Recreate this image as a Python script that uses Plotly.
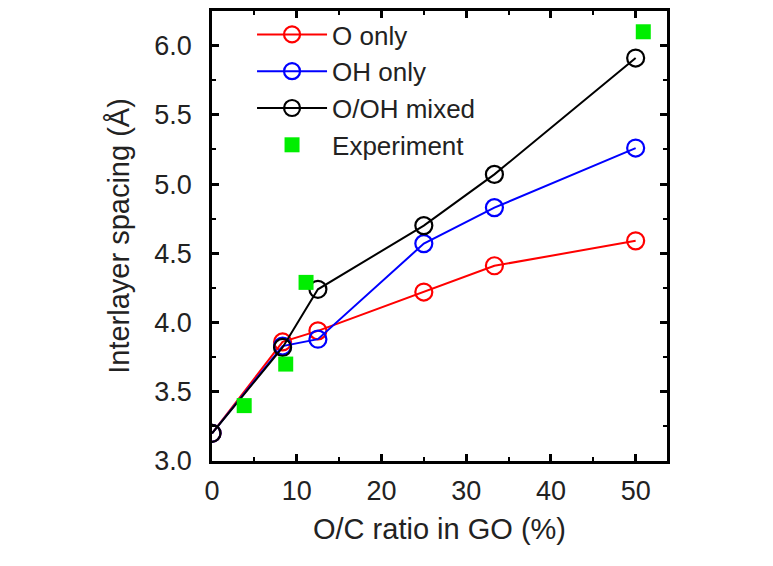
import plotly.graph_objects as go

oc_ratio = [0, 8.33, 12.5, 25, 33.33, 50]
o_only = [3.20, 3.86, 3.94, 4.22, 4.41, 4.59]
oh_only = [3.20, 3.83, 3.88, 4.57, 4.83, 5.26]
mixed = [3.20, 3.82, 4.24, 4.70, 5.07, 5.91]
exp_x = [3.8, 8.7, 11.1, 50.9]
exp_y = [3.40, 3.70, 4.29, 6.10]

fig = go.Figure()
for name, ys, col in [("O only", o_only, "#ff0000"), ("OH only", oh_only, "#0000ff"), ("O/OH mixed", mixed, "#000000")]:
    fig.add_trace(go.Scatter(x=oc_ratio, y=ys, name=name, mode="lines+markers",
                             line=dict(color=col, width=2),
                             marker=dict(symbol="circle-open", size=17, color=col, line=dict(width=2.2, color=col))))
fig.add_trace(go.Scatter(x=exp_x, y=exp_y, name="Experiment", mode="markers",
                         marker=dict(symbol="square", size=15, color="#00ee00")))

axis_common = dict(showline=True, linecolor="black", linewidth=2.5, mirror="ticks",
                   ticks="inside", ticklen=7, tickwidth=2.5, tickcolor="black",
                   showgrid=False, zeroline=False, automargin=False,
                   tickfont=dict(family="Liberation Sans, Arial", size=27, color="#222"))
fig.update_layout(
    width=773, height=566,
    margin=dict(l=204, r=114, t=3, b=113),
    plot_bgcolor="white", paper_bgcolor="white",
    font=dict(family="Liberation Sans, Arial", color="#222"),
    xaxis=dict(range=[0, 53.7], tickvals=[0, 10, 20, 30, 40, 50], ticklabelstandoff=4,
               minor=dict(tickvals=[5, 15, 25, 35, 45], ticks="inside", ticklen=4, tickwidth=2, tickcolor="black"),
               title=dict(text="O/C ratio in GO (%)", font=dict(size=29), standoff=14), **axis_common),
    yaxis=dict(range=[3.0, 6.25], tickvals=[3.0, 3.5, 4.0, 4.5, 5.0, 5.5, 6.0], tickformat=".1f", ticklabelstandoff=12,
               minor=dict(tickvals=[3.25, 3.75, 4.25, 4.75, 5.25, 5.75], ticks="inside", ticklen=4, tickwidth=2, tickcolor="black"),
               title=dict(text="Interlayer spacing (Å)", font=dict(size=29), standoff=17), **axis_common),
    legend=dict(x=0.088, y=1.0, xanchor="left", yanchor="top", bgcolor="rgba(0,0,0,0)",
                font=dict(size=26, color="#222"), itemwidth=70, tracegroupgap=0),
    showlegend=True,
)
fig.write_html("out.html")
